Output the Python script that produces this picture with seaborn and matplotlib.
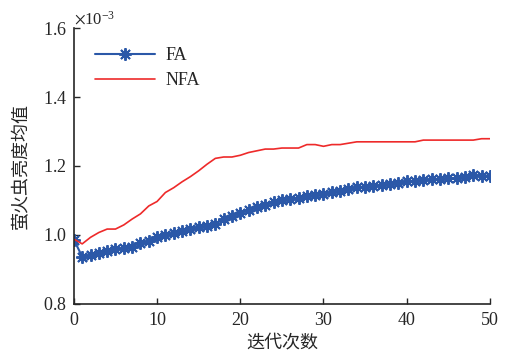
import seaborn as sns
import matplotlib.pyplot as plt
import pandas as pd

# iterations and mean firefly brightness (x 1e-3)
iterations = list(range(51))
fa_values = [0.986, 0.937, 0.942, 0.947, 0.952, 0.958, 0.963, 0.966, 0.976, 0.981,
             0.994, 1.001, 1.005, 1.010, 1.016, 1.022, 1.026, 1.032, 1.045, 1.055,
             1.064, 1.072, 1.080, 1.088, 1.096, 1.101, 1.105, 1.108, 1.112, 1.116,
             1.120, 1.124, 1.128, 1.133, 1.138, 1.140, 1.142, 1.145, 1.148, 1.152,
             1.155, 1.157, 1.159, 1.161, 1.163, 1.164, 1.165, 1.168, 1.173, 1.172,
             1.172]
nfa_values = [0.988, 0.974, 0.993, 1.007, 1.017, 1.017, 1.029, 1.046, 1.061, 1.084,
              1.097, 1.123, 1.137, 1.154, 1.169, 1.186, 1.205, 1.222, 1.226, 1.226,
              1.231, 1.239, 1.244, 1.249, 1.249, 1.252, 1.252, 1.252, 1.262, 1.262,
              1.257, 1.262, 1.262, 1.266, 1.270, 1.270, 1.270, 1.270, 1.270, 1.270,
              1.270, 1.270, 1.275, 1.275, 1.275, 1.275, 1.275, 1.275, 1.275, 1.279,
              1.279]
y_ticks = [0.8e-3, 1.0e-3, 1.2e-3, 1.4e-3, 1.6e-3]
x_ticks = [0, 10, 20, 30, 40, 50]

df = pd.DataFrame({"iter": iterations,
                   "FA": [v * 1e-3 for v in fa_values],
                   "NFA": [v * 1e-3 for v in nfa_values]})

sns.set_style("ticks")
plt.rcParams["font.family"] = ["Liberation Serif", "Noto Sans CJK SC"]
plt.rcParams["xtick.direction"] = "in"
plt.rcParams["ytick.direction"] = "in"
plt.rcParams["mathtext.fontset"] = "stix"

fig = plt.figure(figsize=(5.13, 3.55), dpi=100)
ax = fig.add_axes([0.144, 0.144, 0.811, 0.777])

sns.lineplot(data=df, x="iter", y="FA", ax=ax, color="#2B58A8", linewidth=1.5,
             marker=(8, 2, 0), markersize=9, markeredgewidth=1.4,
             markeredgecolor="#2B58A8", label="FA")
sns.lineplot(data=df, x="iter", y="NFA", ax=ax, color="#EE2A2A", linewidth=1.2,
             label="NFA")

ax.set_xlim(0, 50)
ax.set_ylim(0.8e-3, 1.6e-3)
ax.set_xticks(x_ticks)
ax.set_yticks(y_ticks)
ax.ticklabel_format(axis="y", style="sci", scilimits=(-3, -3), useMathText=True)
ax.yaxis.get_offset_text().set_fontsize(12)
ax.tick_params(labelsize=13, length=4, width=1)
ax.tick_params(axis="x", pad=6)
ax.tick_params(axis="y", pad=5)
for s in ["top", "right"]:
    ax.spines[s].set_visible(False)
for s in ["left", "bottom"]:
    ax.spines[s].set_linewidth(1.2)

ax.set_xlabel("迭代次数", fontsize=13, family="Noto Sans CJK SC", labelpad=3)
ax.set_ylabel("萤火虫亮度均值", fontsize=13, family="Noto Sans CJK SC", labelpad=9)

ax.legend(loc="upper left", frameon=False, fontsize=13, handlelength=3.3,
          handletextpad=0.6, bbox_to_anchor=(0.012, 0.99), labelspacing=0.45)

plt.savefig("out.png", dpi=100)
